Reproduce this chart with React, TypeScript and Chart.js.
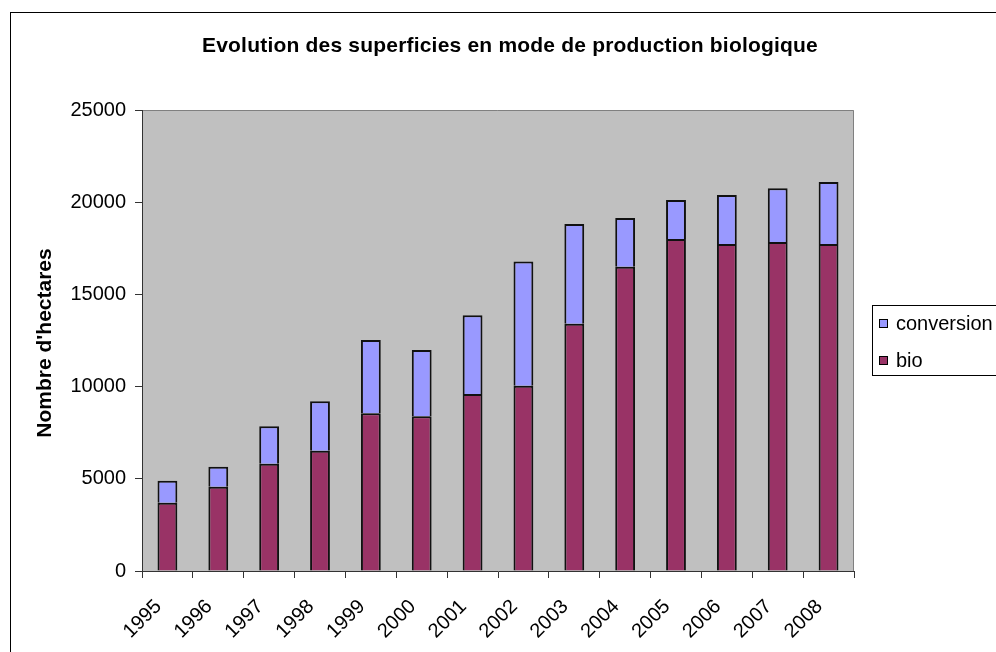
import React, { useEffect, useRef } from "react";
import { Chart, registerables } from "chart.js";

Chart.register(...registerables);

const years = ["1995", "1996", "1997", "1998", "1999", "2000", "2001", "2002", "2003", "2004", "2005", "2006", "2007", "2008"];
const bio = [3700, 4570, 5820, 6520, 8550, 8390, 9600, 10050, 13410, 16500, 18000, 17730, 17840, 17730];
const conversion = [1200, 1080, 2030, 2680, 3980, 3600, 4270, 6730, 5410, 2640, 2120, 2660, 2910, 3370];
const yTicks = [0, 5000, 10000, 15000, 20000, 25000];

const titleText = "Evolution des superficies en mode de production biologique";
const yTitleText = "Nombre d'hectares";
const bioColor = "#993366";
const convColor = "#9999FF";
const plotBg = "#C0C0C0";
const FONT = "'Liberation Sans', Arial, sans-serif";

const W = 996;
const H = 652;

const decorPlugin = {
  id: "decor",
  beforeDraw(chart: any) {
    const ctx = chart.ctx;
    const a = chart.chartArea;
    ctx.save();
    ctx.fillStyle = "#ffffff";
    ctx.fillRect(0, 0, W, H);
    // outer frame
    ctx.strokeStyle = "#000";
    ctx.lineWidth = 1;
    ctx.strokeRect(10.5, 12.5, W + 20, H + 20);
    // plot area
    ctx.fillStyle = plotBg;
    ctx.fillRect(a.left, a.top, a.right - a.left, a.bottom - a.top);
    ctx.strokeStyle = "#808080";
    ctx.beginPath();
    ctx.moveTo(a.left, a.top + 0.5);
    ctx.lineTo(a.right - 0.5, a.top + 0.5);
    ctx.lineTo(a.right - 0.5, a.bottom);
    ctx.stroke();
    ctx.restore();
  },
  afterDraw(chart: any) {
    const ctx = chart.ctx;
    ctx.save();
    ctx.fillStyle = "#000";
    // title
    ctx.font = `bold 21px ${FONT}`;
    (ctx as any).letterSpacing = "0.2px";
    ctx.textAlign = "center";
    ctx.textBaseline = "middle";
    ctx.fillText(titleText, 510, 46);
    (ctx as any).letterSpacing = "0px";
    // y axis title
    ctx.save();
    ctx.translate(45, 343);
    ctx.rotate(-Math.PI / 2);
    ctx.font = `bold 21px ${FONT}`;
    ctx.textAlign = "center";
    ctx.textBaseline = "middle";
    ctx.fillText(yTitleText, 0, 0);
    ctx.restore();
    // legend
    ctx.fillStyle = "#ffffff";
    ctx.fillRect(872, 305, 200, 70);
    ctx.strokeStyle = "#000";
    ctx.lineWidth = 1;
    ctx.strokeRect(872.5, 305.5, 200, 70);
    const items = [
      { label: "conversion", color: convColor, y: 323 },
      { label: "bio", color: bioColor, y: 360 },
    ];
    ctx.font = `20px ${FONT}`;
    ctx.textAlign = "left";
    ctx.textBaseline = "middle";
    for (const it of items) {
      ctx.fillStyle = it.color;
      ctx.fillRect(879, it.y - 4, 8, 8);
      ctx.strokeStyle = "#000";
      ctx.strokeRect(879.5, it.y - 4 + 0.5, 8, 8);
      ctx.fillStyle = "#000";
      ctx.fillText(it.label, 896, it.y + 1);
    }
    ctx.restore();
  },
};

export default function App() {
  const ref = useRef<HTMLCanvasElement | null>(null);
  useEffect(() => {
    if (!ref.current) return;
    const chart = new Chart(ref.current, {
      type: "bar",
      data: {
        labels: years,
        datasets: [
          {
            label: "bio",
            data: bio,
            backgroundColor: bioColor,
            borderColor: "#111",
            borderWidth: 2,
            barPercentage: 0.39,
            categoryPercentage: 1,
          },
          {
            label: "conversion",
            data: conversion,
            backgroundColor: convColor,
            borderColor: "#111",
            borderWidth: 2,
            barPercentage: 0.39,
            categoryPercentage: 1,
          },
        ],
      },
      options: {
        animation: false,
        responsive: false,
        devicePixelRatio: 1,
        layout: { padding: { left: 0, top: 110, right: 142, bottom: 0 } },
        plugins: {
          legend: { display: false },
          title: { display: false },
          tooltip: { enabled: false },
        },
        scales: {
          x: {
            stacked: true,
            grid: {
              display: true,
              drawOnChartArea: false,
              offset: true,
              tickLength: 7,
              color: "#333",
            },
            border: { display: true, color: "#333" },
            ticks: {
              color: "#000",
              font: { family: FONT, size: 20 },
              minRotation: 45,
              maxRotation: 45,
              padding: 17,
              labelOffset: -9,
            },
            afterFit(scale: any) {
              scale.height = 81;
            },
          },
          y: {
            stacked: true,
            min: 0,
            max: 25000,
            afterBuildTicks(scale: any) {
              scale.ticks = yTicks.map((v) => ({ value: v }));
            },
            grid: {
              display: true,
              drawOnChartArea: false,
              tickLength: 7,
              color: "#333",
            },
            border: { display: true, color: "#333" },
            ticks: {
              color: "#000",
              font: { family: FONT, size: 20 },
              padding: 9,
              callback: (v: any) => String(v),
            },
            afterFit(scale: any) {
              scale.width = 142;
            },
          },
        },
      },
      plugins: [decorPlugin],
    } as any);
    return () => chart.destroy();
  }, []);
  return (
    <div style={{ position: "fixed", left: 0, top: 0, width: W, height: H, overflow: "hidden", background: "#fff" }}>
      <canvas ref={ref} width={W} height={H} style={{ display: "block", width: W, height: H }} />
    </div>
  );
}
